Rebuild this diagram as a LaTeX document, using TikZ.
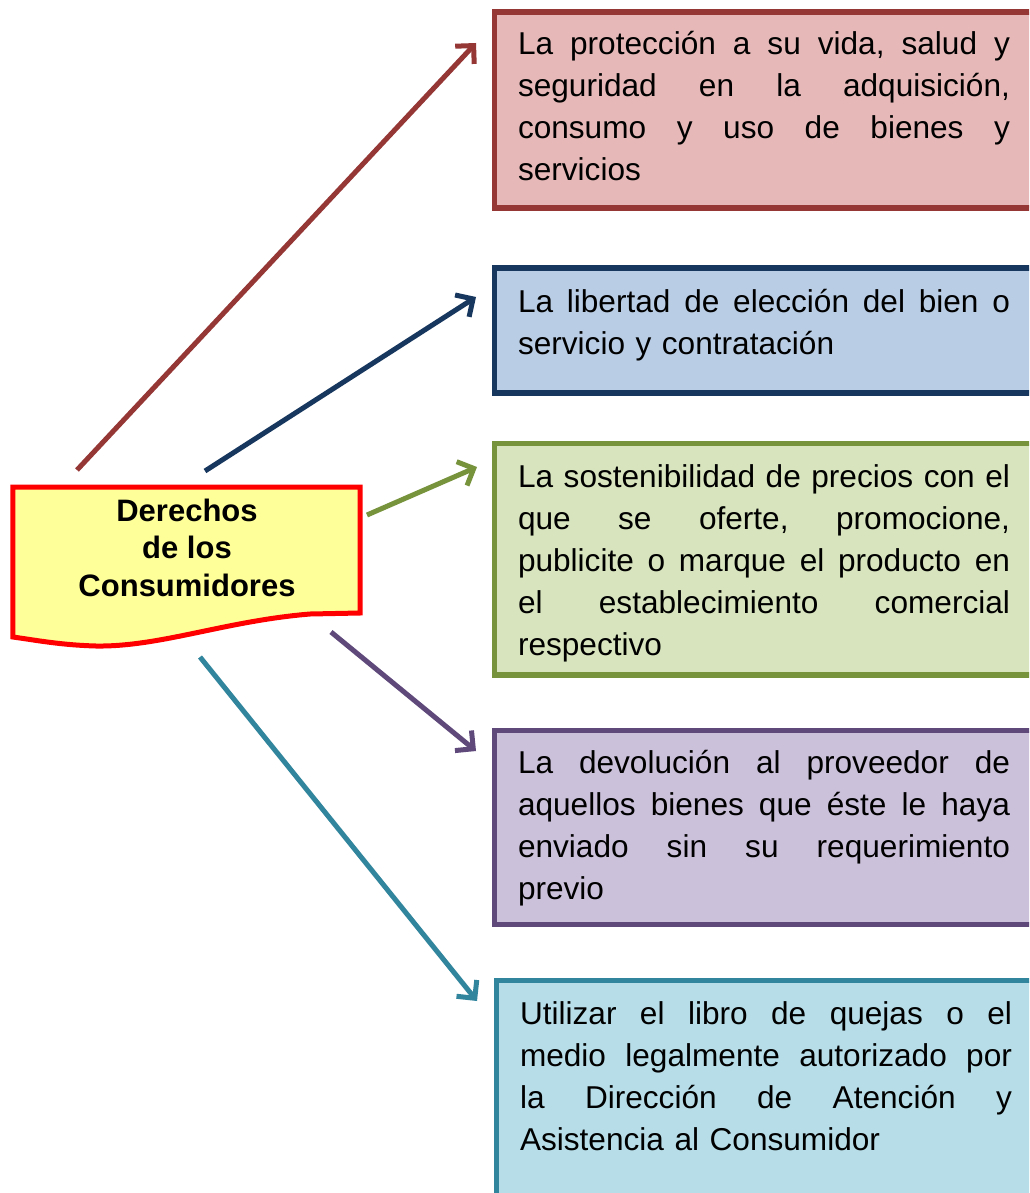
\documentclass[tikz,border=0pt]{standalone}
\usepackage{fontspec}
\setmainfont{Liberation Sans}
\usetikzlibrary{arrows.meta}
\definecolor{cRed}{HTML}{953735}
\definecolor{fRed}{HTML}{E6B9B8}
\definecolor{cNavy}{HTML}{17375E}
\definecolor{fNavy}{HTML}{B9CDE5}
\definecolor{cGreen}{HTML}{77933C}
\definecolor{fGreen}{HTML}{D7E4BD}
\definecolor{cPurple}{HTML}{5F497A}
\definecolor{fPurple}{HTML}{CCC1DA}
\definecolor{cTeal}{HTML}{31859C}
\definecolor{fTeal}{HTML}{B7DEE8}
\definecolor{docFill}{HTML}{FFFF99}
\newcommand\jline[1]{\noindent\hbox to 492pt{#1}\par}
\newcommand\lline[1]{\noindent\hbox to 492pt{#1\hfil}\par}
\newcommand\gap{\hfill}
\tikzset{
  rbox/.style={draw=#1, line width=5.5pt, rectangle, inner sep=0pt, outer sep=0pt, anchor=north west, minimum width=600pt},
  btext/.style={anchor=base west, inner sep=0pt, outer sep=0pt, text width=492pt, font=\fontsize{31.6}{42}\selectfont},
  conn/.style={draw=#1, line width=5pt, -{Straight Barb[length=13pt,width=26pt,line width=5pt]}},
}
\begin{document}
\begin{tikzpicture}[x=1pt,y=-1pt]
\path[clip] (0,0) rectangle (1029,1193);
\fill[white] (0,0) rectangle (1029,1193);
% boxes
\node[rbox=cRed, fill=fRed, minimum height=196pt] (b1) at (494.5,12) {};
\node[rbox=cNavy, fill=fNavy, minimum height=125pt] (b2) at (494.5,268) {};
\node[rbox=cGreen, fill=fGreen, minimum height=231.5pt] (b3) at (494.5,443.5) {};
\node[rbox=cPurple, fill=fPurple, minimum height=194pt] (b4) at (494.5,730.5) {};
\node[rbox=cTeal, fill=fTeal, minimum height=260pt] (b5) at (496.7,980.5) {};
% texts
\node[btext] (t1) at (518,55) {%
\jline{La\gap protección\gap a\gap su\gap vida,\gap salud\gap y}%
\jline{seguridad\gap en\gap la\gap adquisición,}%
\jline{consumo\gap y\gap uso\gap de\gap bienes\gap y}%
\lline{servicios}};
\node[btext] (t2) at (518,312) {%
\jline{La\gap libertad\gap de\gap elección\gap del\gap bien\gap o}%
\lline{servicio y contratación}};
\node[btext] (t3) at (518,487) {%
\jline{La\gap sostenibilidad\gap de\gap precios\gap con\gap el}%
\jline{que\gap se\gap oferte,\gap promocione,}%
\jline{publicite\gap o\gap marque\gap el\gap producto\gap en}%
\jline{el\gap establecimiento\gap comercial}%
\lline{respectivo}};
\node[btext] (t4) at (518,773) {%
\jline{La\gap devolución\gap al\gap proveedor\gap de}%
\jline{aquellos\gap bienes\gap que\gap éste\gap le\gap haya}%
\jline{enviado\gap sin\gap su\gap requerimiento}%
\lline{previo}};
\node[btext] (t5) at (520,1024) {%
\jline{Utilizar\gap el\gap libro\gap de\gap quejas\gap o\gap el}%
\jline{medio\gap legalmente\gap autorizado\gap por}%
\jline{la\gap Dirección\gap de\gap Atención\gap y}%
\lline{Asistencia al Consumidor}};
% document shape
\draw[draw=red, line width=5pt, fill=docFill, line join=miter]
  (12.8,487) -- (360,487) -- (360,613) -- (310,614)
  .. controls (225,621) and (160,647) .. (96,646)
  .. controls (60,645) and (35,640) .. (12.8,637) -- cycle;
\node[anchor=base, align=center, inner sep=0pt, font=\bfseries\fontsize{31}{37.5}\selectfont] (doc) at (187,596) {Derechos\\de los\\Consumidores};
% connector ends
\coordinate (s1) at (77,470);
\coordinate (s2) at (205,471);
\coordinate (s3) at (367,515);
\coordinate (s4) at (331,632);
\coordinate (s5) at (200,657);
\coordinate (e1) at (476,43);
\coordinate (e2) at (476,297);
\coordinate (e3) at (477,467);
\coordinate (e4) at (476,751);
\coordinate (e5) at (477,1001);
\draw[conn=cRed] (s1) -- (e1);
\draw[conn=cNavy] (s2) -- (e2);
\draw[conn=cGreen] (s3) -- (e3);
\draw[conn=cPurple] (s4) -- (e4);
\draw[conn=cTeal] (s5) -- (e5);
\end{tikzpicture}
\end{document}
